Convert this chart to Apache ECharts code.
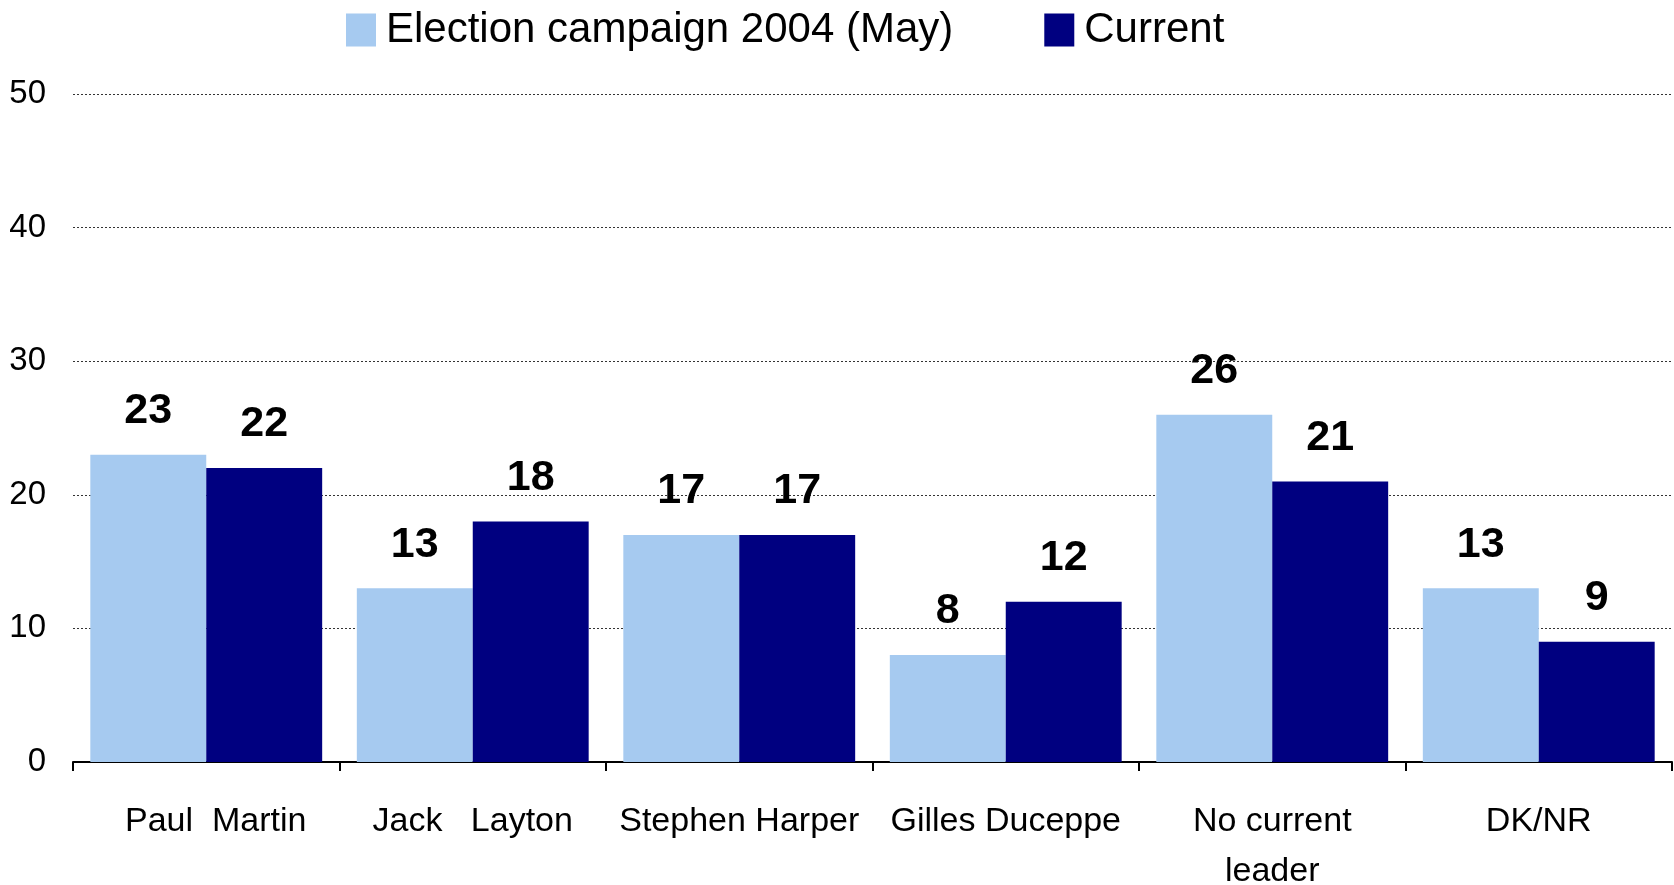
<!DOCTYPE html>
<html>
<head>
<meta charset="utf-8">
<style>
  html, body { margin: 0; padding: 0; background: #fff; }
  #chart { width: 1674px; height: 885px; }
</style>
<script src="https://cdn.jsdelivr.net/npm/echarts@6/dist/echarts.min.js"></script>
</head>
<body>
<div id="chart"></div>
<script>
const categories = ['  Paul  Martin', 'Jack   Layton', 'Stephen Harper', 'Gilles Duceppe', 'No current\nleader', 'DK/NR'];
const seriesNames = ['Election campaign 2004 (May)', 'Current'];
const campaign2004 = [23, 13, 17, 8, 26, 13];
const current = [22, 18, 17, 12, 21, 9];
const yTicks = [0, 10, 20, 30, 40, 50];

const FONT = '"Liberation Sans", Arial, sans-serif';
const chart = echarts.init(document.getElementById('chart'), null, { renderer: 'canvas' });

const labelStyle = {
  show: true,
  position: 'top',
  distance: 22,
  color: '#000',
  fontFamily: FONT,
  fontWeight: 'bold',
  fontSize: 43
};

chart.setOption({
  animation: false,
  backgroundColor: '#fff',
  textStyle: { fontFamily: FONT },
  legend: {
    top: 4,
    left: 341,
    itemWidth: 30,
    itemHeight: 33,
    itemGap: 91,
    icon: 'rect',
    textStyle: { fontSize: 42, color: '#000', fontFamily: FONT, padding: [0, 0, 0, 5] },
    data: seriesNames
  },
  grid: { left: 73, right: 2, top: 94, bottom: 123, containLabel: false, outerBoundsMode: 'none' },
  xAxis: {
    type: 'category',
    data: categories,
    boundaryGap: true,
    axisLine: { show: true, lineStyle: { color: '#000', width: 2 } },
    axisTick: { show: true, length: 9, lineStyle: { color: '#000', width: 2 }, alignWithLabel: false },
    axisLabel: {
      interval: 0,
      color: '#000',
      fontSize: 34,
      lineHeight: 50,
      margin: 35,
      fontFamily: FONT
    },
    splitLine: { show: false }
  },
  yAxis: {
    type: 'value',
    min: yTicks[0],
    max: yTicks[yTicks.length - 1],
    interval: 10,
    axisLine: { show: false },
    axisTick: { show: false },
    axisLabel: { color: '#000', fontSize: 33, margin: 27, fontFamily: FONT },
    splitLine: { show: true, lineStyle: { color: '#333', type: [2, 2], width: 1 } }
  },
  series: [
    {
      name: seriesNames[0],
      type: 'bar',
      data: campaign2004,
      barGap: '0%',
      barCategoryGap: '13%',
      itemStyle: { color: '#A6CAF0' },
      label: labelStyle
    },
    {
      name: seriesNames[1],
      type: 'bar',
      data: current,
      barGap: '0%',
      barCategoryGap: '13%',
      itemStyle: { color: '#000080' },
      label: labelStyle
    }
  ]
});
</script>
</body>
</html>
